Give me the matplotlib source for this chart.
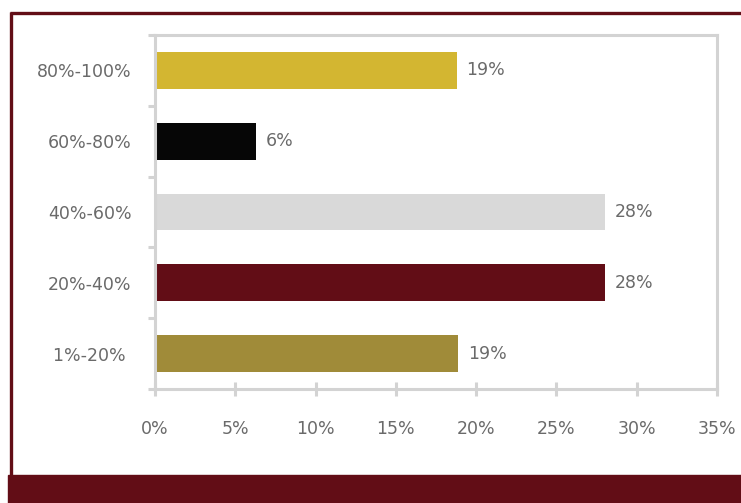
import matplotlib.pyplot as plt
from matplotlib.patches import Rectangle
from matplotlib.lines import Line2D
from matplotlib.ticker import FixedLocator, FuncFormatter

# bottom to top
ranges = ['1%-20% ', '20%-40%', '40%-60%', '60%-80%', '80%-100%']
shares = [18.9, 28.05, 28.05, 6.3, 18.8]
colors = ['#A08B39', '#620D16', '#D9D9D9', '#060606', '#D3B631']
x_ticks = [0, 5, 10, 15, 20, 25, 30, 35]

maroon = '#620D16'
grey = '#D3D3D3'
txt = '#6A6A6A'

fig = plt.figure(figsize=(7.41, 5.03), dpi=100)
ax = fig.add_axes([155/741, 1 - 389/503, (717 - 155)/741, (389 - 35)/503])

pos = list(range(len(ranges)))
ax.barh(pos, shares, height=0.52, color=colors, zorder=2)
for p, v in zip(pos, shares):
    ax.annotate(f'{v:.0f}%', (v, p), xytext=(7, 0), textcoords='offset points',
                va='center', ha='left', fontsize=12.5, color=txt)

ax.set_xlim(0, 35)
ax.set_ylim(-0.5, len(ranges) - 0.5)
ax.set_xticks(x_ticks)
ax.xaxis.set_major_formatter(FuncFormatter(lambda v, _: f'{v:.0f}%'))
ax.set_yticks(pos)
ax.set_yticklabels(ranges)
ax.yaxis.set_minor_locator(FixedLocator([p - 0.5 for p in range(len(ranges) + 1)]))

for s in ax.spines.values():
    s.set_color(grey)
    s.set_linewidth(2.2)

ax.tick_params(axis='x', which='major', direction='inout', length=10, width=2.2,
               color=grey, labelsize=12.5, labelcolor=txt, pad=17)
ax.tick_params(axis='y', which='major', length=0, labelsize=12.5, labelcolor=txt, pad=17)
ax.tick_params(axis='y', which='minor', direction='out', length=5, width=2.2, color=grey)

# maroon frame
fig.add_artist(Line2D([9.5/741, 1], [1 - 13/503, 1 - 13/503], color=maroon, lw=2.4,
                      transform=fig.transFigure, solid_capstyle='butt'))
fig.add_artist(Line2D([10.5/741, 10.5/741], [1 - 12/503, 1 - 476/503], color=maroon, lw=2.4,
                      transform=fig.transFigure, solid_capstyle='butt'))
fig.add_artist(Rectangle((8/741, 0), 1 - 8/741, 28/503, color=maroon,
                         transform=fig.transFigure, zorder=0))

fig.savefig('out.png', dpi=100)
